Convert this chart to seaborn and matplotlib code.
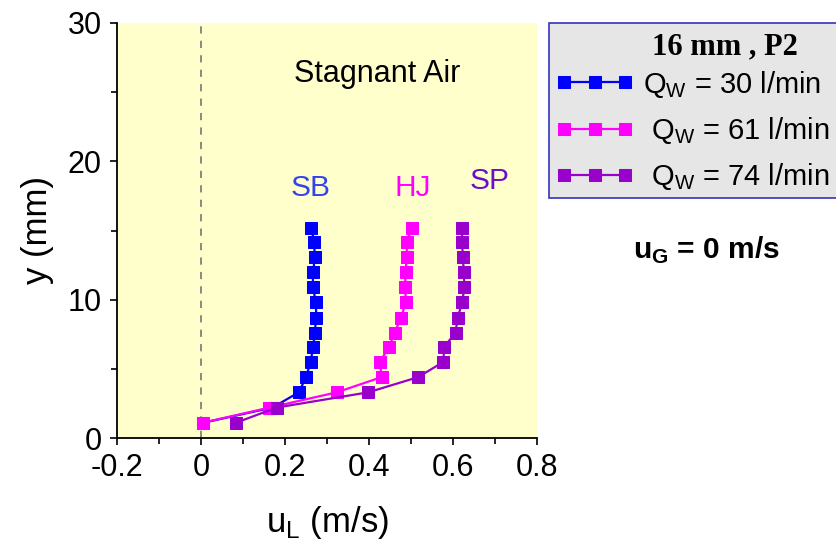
import matplotlib
matplotlib.use("Agg")
import matplotlib.pyplot as plt
import numpy as np
import pandas as pd
import seaborn as sns
from matplotlib.ticker import MultipleLocator

# Measured liquid velocity profiles, 16 mm pipe, position P2, stagnant air
y_mm = [1.1, 2.2, 3.3, 4.4, 5.5, 6.6, 7.6, 8.7, 9.8, 10.9, 12.0, 13.1, 14.2, 15.2]
u_sb = [0.005, 0.17, 0.233, 0.250, 0.261, 0.267, 0.271, 0.274, 0.274, 0.266, 0.267, 0.271, 0.269, 0.263]
u_hj = [0.004, 0.163, 0.323, 0.430, 0.426, 0.448, 0.461, 0.476, 0.488, 0.486, 0.487, 0.490, 0.490, 0.502]
u_sp = [0.083, 0.180, 0.398, 0.517, 0.577, 0.579, 0.606, 0.611, 0.622, 0.627, 0.626, 0.623, 0.622, 0.621]

series_labels = ["Q$_\\mathrm{W}$ = 30 l/min", " Q$_\\mathrm{W}$ = 61 l/min", " Q$_\\mathrm{W}$ = 74 l/min"]
series_colors = ["#0000FF", "#FF00FF", "#9900CC"]
regime_names = ["SB", "HJ", "SP"]
regime_colors = ["#3344EE", "#FF00FF", "#6A0DCC"]
regime_pos = [(0.262, 18.1), (0.505, 18.1), (0.688, 18.6)]

x_ticks = [-0.2, 0, 0.2, 0.4, 0.6, 0.8]
x_tick_labels = ["-0.2", "0", "0.2", "0.4", "0.6", "0.8"]
y_ticks = [0, 10, 20, 30]

frames = []
for lab, u in zip(series_labels, [u_sb, u_hj, u_sp]):
    frames.append(pd.DataFrame({"u": u, "y": y_mm, "series": lab}))
df = pd.concat(frames, ignore_index=True)

sns.set_theme(style="white")
plt.rcParams["font.family"] = ["Liberation Sans", "DejaVu Sans"]
plt.rcParams["mathtext.fontset"] = "custom"
plt.rcParams["mathtext.rm"] = "Liberation Sans"
plt.rcParams["mathtext.bf"] = "Liberation Sans:bold"
for key in ["text.color", "axes.labelcolor", "xtick.color", "ytick.color"]:
    plt.rcParams[key] = "black"

fig = plt.figure(figsize=(8.36, 5.44), dpi=100)
ax = fig.add_axes([117 / 836, 1 - 438 / 544, 420 / 836, 415 / 544])
ax.set_facecolor("#FFFFCC")

sns.lineplot(data=df, x="u", y="y", hue="series", palette=series_colors,
             sort=False, estimator=None, marker="s", markersize=8.7,
             linewidth=1.6, ax=ax)
for ln in ax.lines:
    ln.set_markeredgecolor(ln.get_color())
    ln.set_markerfacecolor(ln.get_color())

ax.axvline(0, color="#808080", lw=1.3, ls=(0, (4, 4)), zorder=0.5)

ax.set_xlim(-0.2, 0.8)
ax.set_ylim(0, 30)
ax.set_xticks(x_ticks)
ax.set_xticklabels(x_tick_labels)
ax.set_yticks(y_ticks)
ax.xaxis.set_minor_locator(MultipleLocator(0.1))
ax.yaxis.set_minor_locator(MultipleLocator(5))
ax.tick_params(axis="both", which="major", direction="out", length=5, width=1.2,
               color="black", labelcolor="black", labelsize=22, pad=6,
               bottom=True, left=True)
ax.tick_params(axis="both", which="minor", direction="out", length=4, width=1.2,
               color="black", bottom=True, left=True)
for side in ["top", "right"]:
    ax.spines[side].set_visible(False)
for side in ["left", "bottom"]:
    ax.spines[side].set_color("black")
    ax.spines[side].set_linewidth(1.3)

ax.set_xlabel("u$_\\mathrm{L}$ (m/s)", fontsize=25, labelpad=15)
ax.set_ylabel("y (mm)", fontsize=25, labelpad=10)

ax.text(0.42, 26.3, "Stagnant Air", fontsize=22, ha="center", va="center", color="black")
for name, col, (px, py) in zip(regime_names, regime_colors, regime_pos):
    ax.text(px, py, name, fontsize=21.5, ha="center", va="center", color=col, clip_on=False)

# Legend box: a blank title reserves the header row, the heading is set as text
handles, labels = ax.get_legend_handles_labels()
ax.get_legend().remove()
leg = ax.legend(handles, labels, loc="upper left",
                bbox_to_anchor=(549 / 836, 1 - 196 / 544, 352 / 836, 173 / 544),
                bbox_transform=fig.transFigure, mode="expand", borderaxespad=0,
                fontsize=21, numpoints=3, handlelength=2.7, handletextpad=0.3,
                labelspacing=0.52, borderpad=0.22, fancybox=False, framealpha=1,
                facecolor="#E6E6E6", edgecolor="#3333BB",
                title=" ", title_fontproperties={"size": 18})
leg.get_frame().set_linewidth(1.2)

fig.text(725 / 836, 1 - 47 / 544, "16 mm , P2", fontsize=22, fontweight="bold",
         family="Liberation Serif", ha="center", va="center", zorder=10)

fig.text(706 / 836, 1 - 250 / 544, "u$_\\mathbf{G}$ = 0 m/s", fontsize=21.5,
         fontweight="bold", ha="center", va="center")

fig.savefig("out.png", dpi=100, facecolor="white")
